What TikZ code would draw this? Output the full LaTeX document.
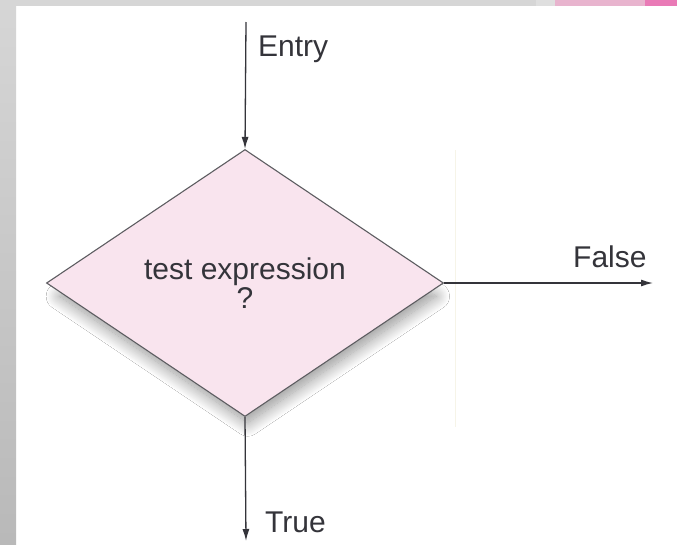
\documentclass[tikz,border=0pt]{standalone}
\usepackage{fontspec}
\setmainfont{Liberation Sans}
\usepackage{xcolor}
\usetikzlibrary{shapes.geometric,arrows.meta,shadows.blur}

\definecolor{framegray}{RGB}{214,214,214}
\definecolor{decisionpink}{RGB}{249,228,238}
\definecolor{softpink}{RGB}{232,180,206}
\definecolor{hotpink}{RGB}{233,122,182}
\definecolor{inkgray}{RGB}{52,52,58}
\definecolor{faintline}{RGB}{246,244,232}

\begin{document}
\begin{tikzpicture}[
				x=1pt,y=-1pt,
				decision/.style={
					diamond,
					draw=inkgray!80,
					line width=1.1pt,
					fill=decisionpink,
					inner sep=0pt,
					minimum width=397pt,
					minimum height=267pt,
					align=center,
					blur shadow={shadow scale=0.95,shadow xshift=3pt,shadow yshift=-14pt,shadow blur radius=14pt,shadow blur steps=20,shadow opacity=42}
				},
				flow/.style={
					draw=inkgray,
					line width=1.3pt,
					-{Latex[length=12pt,width=7pt]}
				},
				label/.style={
					text=inkgray,
					font=\fontsize{30}{32}\selectfont,
					inner sep=0pt
				}
			]

				% page and its frame
				\useasboundingbox (0,0) rectangle (677,544);
				\fill[white] (0,0) rectangle (677,544);
				\shade[top color=framegray,bottom color=gray!55] (0,0) rectangle (16,544);
				\fill[framegray] (16,0) rectangle (536,6);
				\fill[gray!25] (536,0) rectangle (555,6);
				\fill[softpink] (555,0) rectangle (645,6);
				\fill[hotpink] (645,0) rectangle (677,6);
				\draw[faintline,line width=1pt] (455,150) -- (455,427);

				\node[decision, label] (test) at (245,283) {test expression\\[-3pt]?};

				\coordinate (entry) at (246,22);
				\coordinate (true) at (246,541);
				\coordinate (false) at (653,283);

				\draw[flow] (entry) -- (test.north);
				\draw[flow] (test.south) -- (true);
				\draw[flow] (test.east) -- (false);

				\node[label, anchor=base west] (entrytxt) at (258,56) {Entry};
				\node[label, anchor=base west] (falsetxt) at (573,267) {False};
				\node[label, anchor=base west] (truetxt) at (265,532) {True};

			\end{tikzpicture}
\end{document}
